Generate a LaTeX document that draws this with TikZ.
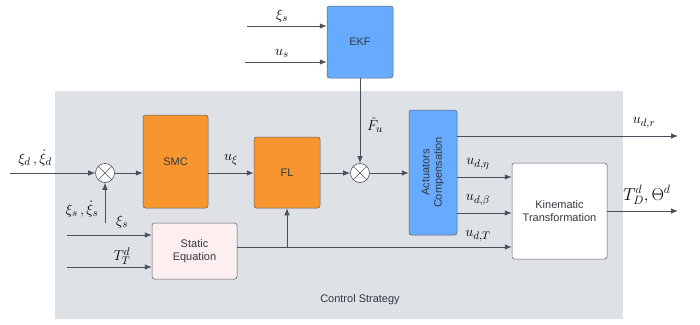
\documentclass[tikz,border=0pt]{standalone}
\usepackage{fontspec}
\setmainfont{Liberation Sans}
\usetikzlibrary{arrows.meta}
\definecolor{bgc}{HTML}{DEE1E5}
\definecolor{orangec}{HTML}{F7962F}
\definecolor{bluec}{HTML}{66ABFF}
\definecolor{pinkc}{HTML}{FDEFEF}
\definecolor{linec}{HTML}{4A5059}
\definecolor{borderc}{HTML}{5A5F66}
\definecolor{txtc}{HTML}{333840}
\begin{document}
\begin{tikzpicture}[x=1pt,y=-1pt,
  arr/.style={draw=linec, line width=0.8pt, -{Latex[length=7pt,width=5.5pt]}},
  blk/.style={draw=borderc, line width=0.5pt, rounded corners=2.5pt, align=center, font=\fontsize{11}{13.5}\selectfont, text=txtc},
  sumc/.style={circle, draw=linec, fill=white, line width=0.6pt, minimum size=19pt, inner sep=0pt,
    path picture={\draw[linec, line width=0.5pt] (path picture bounding box.south west) -- (path picture bounding box.north east)
      (path picture bounding box.north west) -- (path picture bounding box.south east);}},
  lbl/.style={font=\fontsize{15}{17}\selectfont, inner sep=0pt}]
\useasboundingbox (0,0) rectangle (700,324);
% background
\fill[bgc] (55,91) rectangle (623,319);
\node[font=\fontsize{11}{13}\selectfont, text=txtc] (cs) at (360,300) {Control Strategy};
% blocks
\node[blk, fill=bluec, minimum width=66pt, minimum height=72pt] (EKF) at (360,42) {EKF};
\node[blk, fill=orangec, minimum width=65pt, minimum height=93pt] (SMC) at (175.5,161.5) {SMC};
\node[blk, fill=orangec, minimum width=66pt, minimum height=71pt] (FL) at (287,172.5) {FL};
\node[blk, fill=bluec, minimum width=48pt, minimum height=125pt] (AC) at (433,172.5) {};
\node[rotate=90, align=center, font=\fontsize{11}{12.5}\selectfont, text=txtc] (ACt) at (AC.center) {Actuators\\Compensation};
\node[blk, fill=white, minimum width=95pt, minimum height=96pt] (Kin) at (559.5,211) {Kinematic\\Transformation};
\node[blk, fill=pinkc, minimum width=85pt, minimum height=56pt] (ST) at (194.5,251) {Static\\Equation};
\node[sumc] (S1) at (105,173) {};
\node[sumc] (S2) at (360,173) {};
% coordinates
\coordinate (inD) at (10,173);
\coordinate (inS) at (105,223);
\coordinate (inXs) at (67,235);
\coordinate (inT) at (67,267);
\coordinate (inE1) at (247,26);
\coordinate (inE2) at (245,62);
\coordinate (oR) at (678,136);
\coordinate (oK) at (678,211);
\coordinate (br) at (287,247);
% connectors
\draw[arr] (inD) -- (S1);
\draw[arr] (inS) -- (S1);
\draw[arr] (S1) -- (SMC.west |- S1);
\draw[arr] (SMC.east |- S1) -- (FL.west |- S1);
\draw[arr] (FL.east |- S2) -- (S2);
\draw[arr] (S2) -- (AC.west |- S2);
\draw[arr] (EKF.south -| S2) -- (S2);
\draw[arr] (inE1) -- (EKF.west |- inE1);
\draw[arr] (inE2) -- (EKF.west |- inE2);
\draw[arr] (inXs) -- (ST.west |- inXs);
\draw[arr] (inT) -- (ST.west |- inT);
\draw[arr] (ST.east |- br) -- (Kin.west |- br);
\draw[arr] (br) -- (FL.south);
\draw[arr] (AC.east |- oR) -- (oR);
\draw[arr] (AC.east |- 0,177) -- (Kin.west |- 0,177);
\draw[arr] (AC.east |- 0,213) -- (Kin.west |- 0,213);
\draw[arr] (Kin.east |- oK) -- (oK);
% labels
\node[lbl] (l1) at (35,158) {$\xi_d\,,\dot{\xi}_d$};
\node[lbl] (l2) at (82,209) {$\xi_s\,,\dot{\xi}_s$};
\node[lbl] (l3) at (122,222) {$\xi_s$};
\node[lbl] (l4) at (122,256) {$T_T^d$};
\node[lbl] (l5) at (231,160) {$u_\xi$};
\node[lbl] (l6) at (282,16) {$\xi_s$};
\node[lbl] (l7) at (282,53) {$u_s$};
\node[lbl] (l8) at (375,125) {$\hat{F}_u$};
\node[lbl] (l9) at (478,164) {$u_{d,\eta}$};
\node[lbl] (l10) at (478,200) {$u_{d,\beta}$};
\node[lbl] (l11) at (478,236) {$u_{d,T}$};
\node[lbl] (l12) at (644,123) {$u_{d,r}$};
\node[font=\fontsize{18}{20}\selectfont, inner sep=0pt] (l13) at (647,195) {$T_D^d,\Theta^d$};
\end{tikzpicture}
\end{document}
